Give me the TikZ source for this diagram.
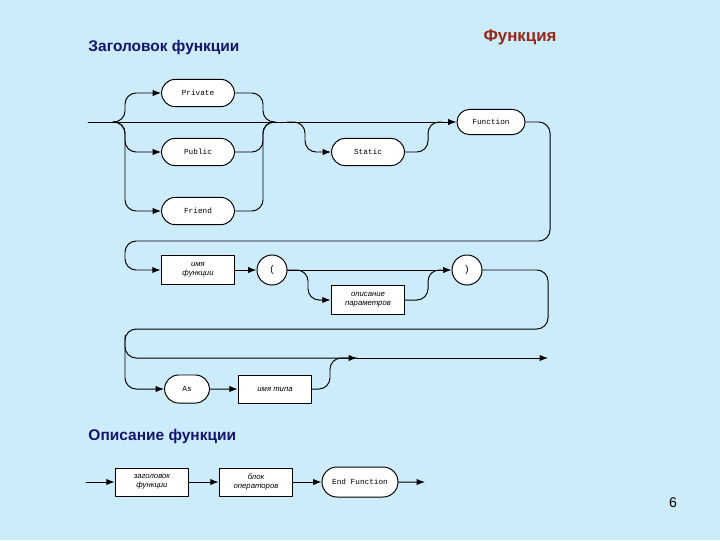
\documentclass[tikz,border=0pt]{standalone}
\usepackage{fontspec}
\setmainfont{Liberation Sans}
\setmonofont{Liberation Mono}
\usetikzlibrary{arrows.meta,shapes.misc}
\definecolor{fon}{RGB}{204,236,252}
\definecolor{titul}{RGB}{20,20,110}
\definecolor{krasn}{RGB}{150,40,20}
\tikzset{
	term/.style={rounded rectangle, draw, fill=white, minimum width=1.82cm, minimum height=0.68cm, inner sep=0pt, font=\ttfamily\fontsize{5.5}{6}\selectfont},
	nterm/.style={rectangle, draw, fill=white, minimum width=1.84cm, minimum height=0.74cm, inner sep=0pt, align=center, font=\itshape\fontsize{5.5}{6.5}\selectfont},
	krug/.style={circle, draw, fill=white, minimum size=0.75cm, inner sep=0pt, font=\fontsize{7}{8}\selectfont},
	zag/.style={font=\bfseries\fontsize{11}{13}\selectfont, text=titul, anchor=west, inner sep=0pt},
	rail/.style={rounded corners=0.28cm},
}
\begin{document}
\begin{tikzpicture}[x=0.025cm, y=-0.025cm, >={Latex[length=6pt,width=4.5pt]}, line width=0.7pt, line join=round, line cap=round]
	\fill[fon] (0,0) rectangle (720,540);
	\node[font=\bfseries\fontsize{12}{14}\selectfont, text=krasn] (tit) at (520,37) {Функция};
	\node[zag] (zag1) at (88,47) {Заголовок функции};
	% заголовок функции
	\node[term] (priv) at (198,93) {Private};
	\node[term] (publ) at (198,152) {Public};
	\node[term] (frnd) at (198,211) {Friend};
	\node[term] (stat) at (368,152) {Static};
	\node[term, minimum width=1.7cm, minimum height=0.63cm] (func) at (491,122) {Function};
	\node[nterm] (imf) at (198,270) {имя\\функции};
	\node[krug] (lp) at (272,270) {(};
	\node[krug] (rp) at (467,270) {)};
	\node[nterm] (opis) at (368,300) {описание\\параметров};
	\node[term, minimum width=1.12cm, minimum height=0.7cm] (as) at (187,389) {As};
	\node[nterm, minimum height=0.7cm] (tip) at (275,389) {имя типа};
	\coordinate (vh) at (88,122);
	\coordinate (ls) at (125,122);
	\coordinate (rs) at (263,122);
	\coordinate (s1) at (305,122);
	\coordinate (s2) at (428,122);
	\coordinate (sl) at (357,358);
	\coordinate (vyh) at (548,358);
	\draw[->] (vh) -- (func);
	\foreach \n in {priv,publ,frnd} {
		\draw[rail,->] (113,122) -- (ls) |- (\n.west);
		\draw[rail] (\n.east) -| (rs) -- (275,122);
	}
	\draw[rail,->] (287,122) -- (s1) |- (stat.west);
	\draw[rail] (stat.east) -| (s2) -- (442,122);
	\draw[rail,->] (func.east) -- (550,122) -- (550,241) -- (125,241) |- (imf.west);
	\draw[->] (imf) -- (lp);
	\draw[->] (lp) -- (rp);
	\draw[rail,->] (lp.east) -- (308,270) |- (opis.west);
	\draw[rail] (opis.east) -| (428,270) -- (442,270);
	\draw[rail,->] (rp.east) -- (548,270) -- (548,329) -- (125,329) |- (as.west);
	\draw[rail,->] (125,335) |- (sl);
	\draw[->] (as) -- (tip);
	\draw[rail] (tip.east) -| (330,358) -- (sl);
	\draw[->] (sl) -- (vyh);
	% описание функции
	\node[zag] (zag2) at (88,436) {Описание функции};
	\node[nterm, minimum height=0.7cm] (zf) at (152,482) {заголовок\\функции};
	\node[nterm, minimum height=0.7cm] (bo) at (256,482) {блок\\операторов};
	\node[term, minimum width=1.9cm, minimum height=0.75cm] (ef) at (360,482) {End Function};
	\coordinate (v2) at (86,482);
	\coordinate (w2) at (425,482);
	\draw[->] (v2) -- (zf);
	\draw[->] (zf) -- (bo);
	\draw[->] (bo) -- (ef);
	\draw[->] (ef) -- (w2);
	\node (num) at (673,503) {6};
\end{tikzpicture}
\end{document}
